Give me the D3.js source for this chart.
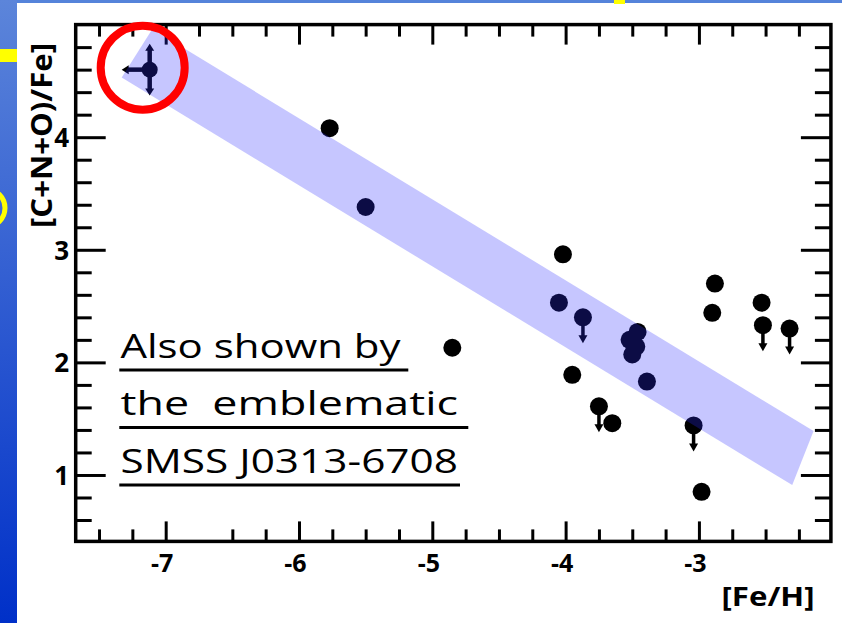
<!DOCTYPE html>
<html>
<head>
<meta charset="utf-8">
<script src="https://cdn.jsdelivr.net/npm/d3@7"></script>
<style>
  html, body { margin: 0; padding: 0; background: #fff; }
  svg { display: block; }
  text { font-family: "Open Sans", "Liberation Sans", sans-serif; }
</style>
</head>
<body>
<svg id="chart" width="842" height="623"></svg>
<script>
// ---- data -------------------------------------------------------------
// stars: metallicity [Fe/H] and [C+N+O/Fe]; upper limits carry a down arrow
const feh = [-5.77, -5.50, -4.85, -4.02, -4.05, -3.87, -3.95, -3.75, -3.65,
             -3.46, -3.52, -3.47, -3.50, -3.39, -3.04, -2.88, -2.90, -2.98,
             -2.53, -2.52, -2.32];
const cno = [4.08, 3.38, 2.13, 2.96, 2.53, 2.40, 1.89, 1.61, 1.46,
             2.27, 2.20, 2.14, 2.07, 1.83, 1.44, 2.70, 2.44, 0.85,
             2.53, 2.33, 2.30];
const upperLimit = [false, false, false, false, false, true, false, true, false,
                    false, false, false, false, false, true, false, false, false,
                    false, true, true];

// the most iron-poor star (SMSS J0313-6708), with limits in both directions
const starFeh = -7.12;
const starCno = 4.60;
const starCnoErr = 0.23;
const starFehArrow = 0.21;

// shaded trend band, corners in data units
const bandFeh = [-7.10, -2.14, -2.30, -7.33];
const bandCno = [4.96, 1.39, 0.91, 4.53];

// axes
const xMajor = [-7, -6, -5, -4, -3];
const xTickLabels = ["-7", "-6", "-5", "-4", "-3"];
const xMinorBottom = [-7.5, -7.25, -6.5, -6.25, -5.75, -5.5, -5.25, -4.75, -4.5, -4.25,
                      -3.75, -3.5, -3.25, -2.75, -2.5, -2.25];
const xMinorTop = [-7.5, -7.25, -6.75, -6.5, -6.25, -5.75, -5.5, -5.25, -4.75, -4.5, -4.25,
                   -3.75, -3.5, -3.25, -2.75, -2.5, -2.25];
const yMajor = [1, 2, 3, 4];
const yTickLabels = ["1", "2", "3", "4"];
const yMinor = [0.6, 0.8, 1.2, 1.4, 1.6, 1.8, 2.2, 2.4, 2.6, 2.8,
                3.2, 3.4, 3.6, 3.8, 4.2, 4.4, 4.6, 4.8];

const xTitle = "[Fe/H]";
const yTitle = "[C+N+O)/Fe]";
const noteLines = ["Also shown by ", "the  emblematic ", "SMSS J0313-6708"];

// ---- layout -----------------------------------------------------------
const W = 842, H = 623;
const x = d3.scaleLinear().domain([-7.675, -2.01]).range([75.7, 830.9]);
const y = d3.scaleLinear().domain([0.41, 5.0]).range([541.4, 24.6]);
const [xL, xR] = x.range();
const [yB, yT] = y.range();

const svg = d3.select("#chart");
const defs = svg.append("defs");

// ---- slide background --------------------------------------------------
const side = defs.append("linearGradient").attr("id", "sideBlue")
  .attr("x1", 0).attr("y1", 0).attr("x2", 0).attr("y2", 1);
side.append("stop").attr("offset", 0).attr("stop-color", "#5c85da");
side.append("stop").attr("offset", 1).attr("stop-color", "#0030c8");

svg.append("rect").attr("width", W).attr("height", H).attr("fill", "#fff");
svg.append("rect").attr("x", 0).attr("y", 0).attr("width", W).attr("height", 3)
  .attr("fill", "#5583da");
svg.append("rect").attr("x", 0).attr("y", 0).attr("width", 17).attr("height", H)
  .attr("fill", "url(#sideBlue)");
svg.append("rect").attr("x", 614).attr("y", 0).attr("width", 11).attr("height", 4)
  .attr("fill", "#ffff00");
svg.append("rect").attr("x", 0).attr("y", 49).attr("width", 17).attr("height", 13)
  .attr("fill", "#ffff00");
svg.append("circle").attr("cx", -14).attr("cy", 208).attr("r", 19)
  .attr("fill", "none").attr("stroke", "#ffff00").attr("stroke-width", 5);

// ---- axes ---------------------------------------------------------------
const plot = svg.append("g");

function styleTicks(g) {
  g.select(".domain").remove();
  g.selectAll(".tick line").attr("stroke", "#000").attr("stroke-width", 3);
}

// bottom
plot.append("g").attr("transform", `translate(0,${yB})`)
  .call(d3.axisBottom(x).tickValues(xMinorBottom).tickSize(-12).tickFormat(""))
  .call(styleTicks);
plot.append("g").attr("transform", `translate(0,${yB})`)
  .call(d3.axisBottom(x).tickValues(xMajor).tickSize(-20)
    .tickFormat((d, i) => xTickLabels[i]))
  .call(styleTicks)
  .call(g => g.selectAll(".tick text")
    .attr("y", 30.5).attr("dy", 0).attr("dx", -4)
    .attr("fill", "#000")
    .style("font-family", "'Open Sans', sans-serif")
    .style("font-weight", 700).style("font-size", "25px"));

// top
plot.append("g").attr("transform", `translate(0,${yT})`)
  .call(d3.axisTop(x).tickValues(xMinorTop).tickSize(-12).tickFormat(""))
  .call(styleTicks);
plot.append("g").attr("transform", `translate(0,${yT})`)
  .call(d3.axisTop(x).tickValues(xMajor).tickSize(-20).tickFormat(""))
  .call(styleTicks);

// left
plot.append("g").attr("transform", `translate(${xL},0)`)
  .call(d3.axisLeft(y).tickValues(yMinor).tickSize(-16).tickFormat(""))
  .call(styleTicks);
plot.append("g").attr("transform", `translate(${xL},0)`)
  .call(d3.axisLeft(y).tickValues(yMajor).tickSize(-30)
    .tickFormat((d, i) => yTickLabels[i]))
  .call(styleTicks)
  .call(g => g.selectAll(".tick text")
    .attr("x", -6.5).attr("dy", "0.36em")
    .attr("fill", "#000")
    .style("font-family", "'Open Sans', sans-serif")
    .style("font-weight", 700).style("font-size", "26px"));

// right
plot.append("g").attr("transform", `translate(${xR},0)`)
  .call(d3.axisRight(y).tickValues(yMinor).tickSize(-16).tickFormat(""))
  .call(styleTicks);
plot.append("g").attr("transform", `translate(${xR},0)`)
  .call(d3.axisRight(y).tickValues(yMajor).tickSize(-30).tickFormat(""))
  .call(styleTicks);

// ---- stars ------------------------------------------------------------
const stars = feh.map((f, i) => ({ feh: f, cno: cno[i], ul: upperLimit[i] }));
const ARROW_LEN = 26;   // px, length of an upper-limit arrow
const HEAD_W = 9, HEAD_H = 8;

function arrowHead(g, tipX, tipY, dir, w, h) {
  // dir: "down", "up", "left"
  let pts;
  if (dir === "down") pts = [[tipX, tipY], [tipX - w / 2, tipY - h], [tipX + w / 2, tipY - h]];
  else if (dir === "up") pts = [[tipX, tipY], [tipX - w / 2, tipY + h], [tipX + w / 2, tipY + h]];
  else pts = [[tipX, tipY], [tipX + h, tipY - w / 2], [tipX + h, tipY + w / 2]];
  g.append("path").attr("d", "M" + pts.join("L") + "Z").attr("fill", "#000");
}

const marks = plot.append("g");
stars.filter(d => d.ul).forEach(d => {
  const cx = x(d.feh), cy = y(d.cno);
  marks.append("line").attr("x1", cx).attr("x2", cx)
    .attr("y1", cy).attr("y2", cy + ARROW_LEN - HEAD_H + 1)
    .attr("stroke", "#000").attr("stroke-width", 3.5);
  arrowHead(marks, cx, cy + ARROW_LEN, "down", HEAD_W, HEAD_H);
});
marks.selectAll("circle.star").data(stars).join("circle")
  .attr("class", "star")
  .attr("cx", d => x(d.feh)).attr("cy", d => y(d.cno)).attr("r", 9)
  .attr("fill", "#000");

// SMSS J0313-6708
const sx = x(starFeh), sy = y(starCno);
const sUp = y(starCno + starCnoErr), sDn = y(starCno - starCnoErr);
const sLeft = x(starFeh - starFehArrow);
marks.append("line").attr("x1", sx).attr("x2", sx)
  .attr("y1", sUp + 6).attr("y2", sDn - 6)
  .attr("stroke", "#000").attr("stroke-width", 4.5);
marks.append("line").attr("x1", sLeft + 6).attr("x2", sx)
  .attr("y1", sy).attr("y2", sy)
  .attr("stroke", "#000").attr("stroke-width", 4.5);
arrowHead(marks, sx, sUp, "up", 9, 7);
arrowHead(marks, sx, sDn, "down", 9, 7);
arrowHead(marks, sLeft, sy, "left", 9, 7);
marks.append("circle").attr("cx", sx).attr("cy", sy).attr("r", 8).attr("fill", "#000");

// ---- translucent trend band over the stars ------------------------------
const bandPts = bandFeh.map((f, i) => [x(f), y(bandCno[i])]);
plot.append("path")
  .attr("d", d3.line()(bandPts) + "Z")
  .attr("fill", "rgb(45,45,255)")
  .attr("fill-opacity", 0.27);

// ---- frame ------------------------------------------------------------
plot.append("rect")
  .attr("x", xL).attr("y", yT).attr("width", xR - xL).attr("height", yB - yT)
  .attr("fill", "none").attr("stroke", "#000").attr("stroke-width", 3.5);

// ---- axis titles --------------------------------------------------------
svg.append("text")
  .attr("x", 721.5).attr("y", 606)
  .attr("textLength", 93).attr("lengthAdjust", "spacingAndGlyphs")
  .style("font-weight", 700).style("font-size", "27px").attr("fill", "#000")
  .text(xTitle);

svg.append("text")
  .attr("transform", "translate(51.5,228) rotate(-90)")
  .attr("x", 0).attr("y", 0)
  .attr("textLength", 185).attr("lengthAdjust", "spacingAndGlyphs")
  .style("font-weight", 700).style("font-size", "28px").attr("fill", "#000")
  .text(yTitle);

// ---- highlight ring around SMSS J0313-6708 -----------------------------
svg.append("circle")
  .attr("cx", sx - 7).attr("cy", sy - 2).attr("r", 42)
  .attr("fill", "none").attr("stroke", "#ff0000").attr("stroke-width", 8);

// ---- annotation ---------------------------------------------------------
const noteX = 120.5, noteBase = 357.7, noteStep = 57.5;
const noteLen = [280, 337.5, 337.5];
const underlineEnd = [408.3, 468.3, 460];
const note = svg.append("g");
noteLines.forEach((t, i) => {
  const by = noteBase + i * noteStep;
  note.append("text")
    .attr("x", noteX).attr("y", by)
    .attr("textLength", noteLen[i]).attr("lengthAdjust", "spacingAndGlyphs")
    .style("white-space", "pre")
    .style("font-size", "33px").attr("fill", "#000")
    .text(t.trimEnd());
  note.append("line")
    .attr("x1", noteX - 1.2).attr("x2", underlineEnd[i])
    .attr("y1", by + 12.3).attr("y2", by + 12.3)
    .attr("stroke", "#000").attr("stroke-width", 3);
});
</script>
</body>
</html>
